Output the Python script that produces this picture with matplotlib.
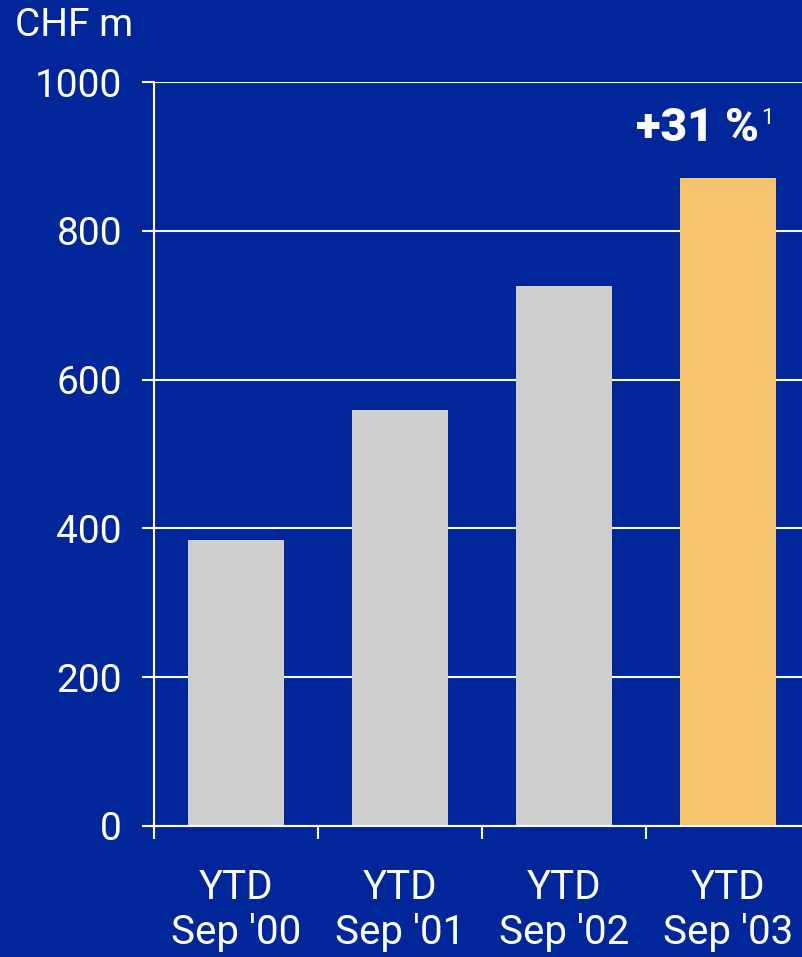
import matplotlib
matplotlib.use("Agg")
import matplotlib.pyplot as plt
import numpy as np

plt.rcParams['font.family'] = ['Roboto', 'DejaVu Sans']

categories = ["YTD\nSep '00", "YTD\nSep '01", "YTD\nSep '02", "YTD\nSep '03"]
values = [384, 559, 726, 871]
bar_colors = ["#CFCFCF", "#CFCFCF", "#CFCFCF", "#F5C26E"]
yticks = [0, 200, 400, 600, 800, 1000]
unit_label = "CHF m"
growth_label = "+31 %"
footnote = "1"

bg = "#00269A"
W, H = 802, 957
fig = plt.figure(figsize=(W / 100, H / 100), dpi=100, facecolor=bg)
ax = fig.add_axes([154 / W, (H - 826) / H, (810 - 154) / W, (826 - 82) / H])
ax.set_facecolor(bg)

x = np.arange(len(categories))
ax.set_axisbelow(True)
ax.yaxis.grid(True, color="white", linewidth=1.5)
ax.bar(x, values, width=0.585, color=bar_colors, zorder=2)

ax.set_xlim(-0.5, len(categories) - 0.5)
ax.set_ylim(0, 1000)
ax.set_yticks(yticks)
ax.set_yticklabels([str(v) for v in yticks])

ax.set_xticks(x)
ax.set_xticklabels(categories, linespacing=1.22)
ax.set_xticks(np.arange(len(categories)) - 0.5, minor=True)

for s in ["top", "right"]:
    ax.spines[s].set_visible(False)
for s in ["left", "bottom"]:
    ax.spines[s].set_color("white")
    ax.spines[s].set_linewidth(1.5)

ax.tick_params(axis="y", colors="white", labelsize=28, length=9, width=1.5, pad=14)
ax.tick_params(axis="x", which="major", colors="white", labelsize=29, length=0, pad=30)
ax.tick_params(axis="x", which="minor", colors="white", length=9, width=1.5, direction="out")

fig.text(15 / W, 1 - 26 / H, unit_label, color="white", fontsize=28, va="center", ha="left")

ax.annotate(growth_label, xy=(x[-1], values[-1]), xytext=(-22, 36), textcoords="offset points",
            ha="center", va="center", color="white", fontsize=33, fontweight="heavy")
ax.annotate(footnote, xy=(x[-1], values[-1]), xytext=(24, 43), textcoords="offset points",
            ha="left", va="center", color="white", fontsize=16)

fig.savefig("out.png", dpi=100, facecolor=bg)
